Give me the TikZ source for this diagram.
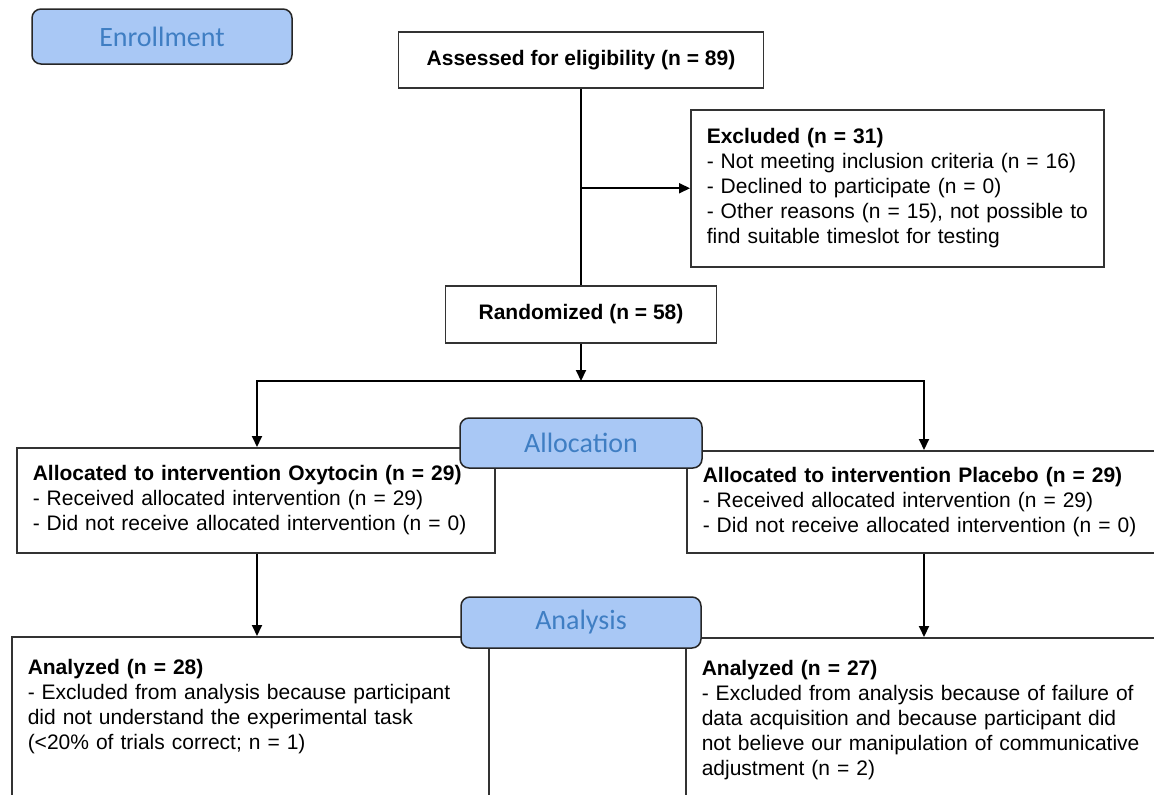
\documentclass[tikz,border=0pt]{standalone}
\usepackage{fontspec}
\setmainfont{Liberation Sans}
\newfontfamily\stagefont{Carlito}
\usetikzlibrary{arrows.meta}
\definecolor{stagefill}{HTML}{A9C8F5}
\definecolor{stagetext}{HTML}{3F7EC3}
\definecolor{boxline}{HTML}{333333}

\begin{document}
\begin{tikzpicture}
	[	x=1pt,y=-1pt,
	box/.style={rectangle,draw=boxline,line width=1.5pt,fill=white,font=\fontsize{21}{25}\selectfont,inner sep=0pt},
	listbox/.style={box,align=left,anchor=north west,inner xsep=16pt},
	openbox/.style={listbox,text height=38pt,text depth=160pt},
	stage/.style={rectangle,rounded corners=9pt,draw=black!85,line width=1.5pt,fill=stagefill,text=stagetext,font=\stagefont\fontsize{28}{30}\selectfont,inner sep=0pt},
	flow/.style={line width=2pt,-{Triangle[length=11pt,width=10pt]}}
	]
	\useasboundingbox (0,0) rectangle (1154,795);

	\node[stage,minimum width=260pt,minimum height=55pt] (enroll) at (162,36.5){Enrollment};
	\node[box,minimum width=365pt,minimum height=56pt] (assess) at (581,60){\textbf{Assessed for eligibility (n = 89)}};
	\node[listbox,text width=381pt,minimum height=157pt] (excl) at (690,109){\textbf{Excluded (n = 31)}\\
		- Not meeting inclusion criteria (n = 16)\\
		- Declined to participate (n = 0)\\
		\mbox{- Other reasons (n = 15), not possible to}\\
		find suitable timeslot for testing};
	\node[box,minimum width=271pt,minimum height=57pt] (rand) at (581,314.5){\textbf{Randomized (n = 58)}};

	\node[listbox,text width=446pt,minimum height=105pt] (allocL) at (16,447){\textbf{Allocated to intervention Oxytocin (n = 29)}\\
		- Received allocated intervention (n = 29)\\
		- Did not receive allocated intervention (n = 0)};
	\node[listbox,text width=448pt,minimum height=102pt] (allocR) at (686,450){\textbf{Allocated to intervention Placebo (n = 29)}\\
		- Received allocated intervention (n = 29)\\
		- Did not receive allocated intervention (n = 0)};
	\node[stage,minimum width=242pt,minimum height=50pt] (alloc) at (581,443){Allocation};

	\node[openbox,text width=445pt] (anaL) at (11,636){\textbf{Analyzed (n = 28)}\\
		- Excluded from analysis because participant\\
		did not understand the experimental task\\
		(<20\% of trials correct; n = 1)};
	\node[openbox,text width=448pt] (anaR) at (685,637){\textbf{Analyzed (n = 27)}\\
		- Excluded from analysis because of failure of\\
		data acquisition and because participant did\\
		not believe our manipulation of communicative\\
		adjustment (n = 2)};
	\node[stage,minimum width=240pt,minimum height=51pt] (analysis) at (581,622.5){Analysis};

	\coordinate (splitL) at (257,381);
	\coordinate (splitR) at (924,381);

	\draw[line width=2pt] (assess.south) -- (assess.south |- rand.north);
	\draw[flow] (assess.south |- excl.west) -- (excl.west);
	\draw[flow] (rand.south) -- (rand.south |- splitL);
	\draw[flow] (splitL -| rand.south) -- (splitL) -- (splitL |- allocL.north);
	\draw[flow] (splitR -| rand.south) -- (splitR) -- (splitR |- allocR.north);
	\draw[flow] (allocL.south -| splitL) -- (splitL |- anaL.north);
	\draw[flow] (allocR.south -| splitR) -- (splitR |- anaR.north);
\end{tikzpicture}
\end{document}
